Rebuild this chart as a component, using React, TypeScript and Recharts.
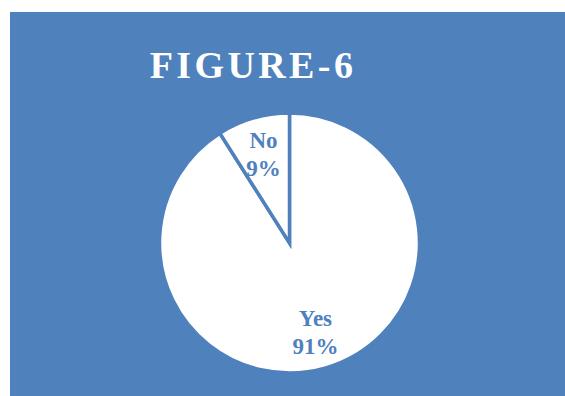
import React from 'react';
import { PieChart, Pie, Cell } from 'recharts';

const categories = ['Yes', 'No'];
const values = [91, 9];
const percentLabels = ['91%', '9%'];

const BLUE = '#4F81BD';
const SERIF = '"Liberation Serif", "Times New Roman", serif';

const data = categories.map((name, i) => ({ name, value: values[i], pct: percentLabels[i] }));

const RAD = Math.PI / 180;

const renderLabel = (props: any) => {
  const { cx, cy, midAngle, index } = props;
  const r = 93;
  const x = cx + Math.cos(-midAngle * RAD) * r;
  const y = cy + Math.sin(-midAngle * RAD) * r;
  const d = data[index];
  return (
    <text
      x={x}
      y={y}
      textAnchor="middle"
      fill={BLUE}
      fontFamily={SERIF}
      fontWeight="bold"
      fontSize={23}
    >
      <tspan x={x} dy={-6}>{d.name}</tspan>
      <tspan x={x} dy={28}>{d.pct}</tspan>
    </text>
  );
};

export default function App() {
  return (
    <div style={{ position: 'absolute', left: 0, top: 0, width: 565, height: 396, background: '#fff' }}>
      <div style={{ position: 'absolute', left: 10, top: 12, width: 555, height: 384, background: BLUE }}>
        <PieChart width={555} height={384} margin={{ top: 0, right: 0, bottom: 0, left: 0 }}>
          <text
            x={243}
            y={66}
            textAnchor="middle"
            fill="#fff"
            fontFamily={SERIF}
            fontWeight="bold"
            fontSize={38}
            letterSpacing={3.4}
          >
            FIGURE-6
          </text>
          <Pie
            data={data}
            dataKey="value"
            nameKey="name"
            cx={279.5}
            cy={231}
            outerRadius={130}
            startAngle={90}
            endAngle={-270}
            stroke={BLUE}
            strokeWidth={3.5}
            label={renderLabel}
            labelLine={false}
            isAnimationActive={false}
          >
            {data.map((d) => (
              <Cell key={d.name} fill="#fff" />
            ))}
          </Pie>
        </PieChart>
      </div>
    </div>
  );
}
